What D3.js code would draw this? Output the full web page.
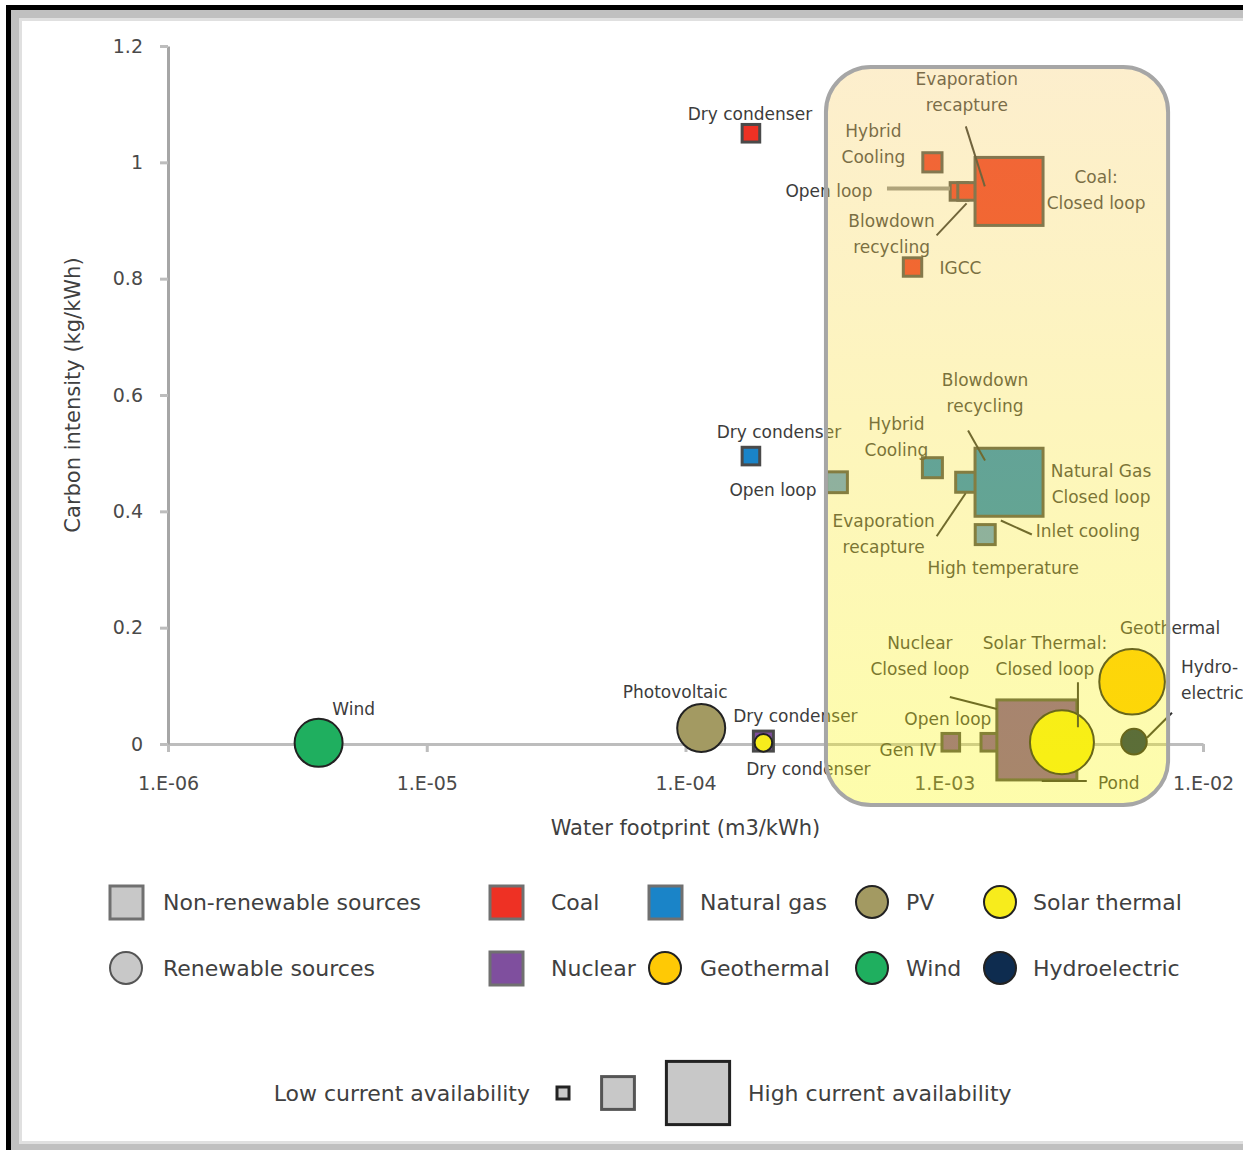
<!DOCTYPE html>
<html>
<head>
<meta charset="utf-8">
<script src="https://cdn.jsdelivr.net/npm/d3@7/dist/d3.min.js"></script>
<style>
  body { margin: 0; background: #fff; }
  text { font-family: "DejaVu Sans", sans-serif; }
</style>
</head>
<body>
<script>
var W = 1243, H = 1150;

// axis ticks
var xTicks = [1e-6, 1e-5, 1e-4, 1e-3, 1e-2],
    xTickLabels = ['1.E-06', '1.E-05', '1.E-04', '1.E-03', '1.E-02'],
    yTicks = [0, 0.2, 0.4, 0.6, 0.8, 1, 1.2],
    yTickLabels = ['0', '0.2', '0.4', '0.6', '0.8', '1', '1.2'];

// energy sources (legend order: first row, then second row)
var sources = ['Coal', 'Natural gas', 'PV', 'Solar thermal', 'Nuclear', 'Geothermal', 'Wind', 'Hydroelectric'],
    renewable = [false, false, true, true, false, true, true, true],
    sourceColors = ['#ee3124', '#1a84c8', '#a39a62', '#f7ec1c', '#7f4f9e', '#ffc905', '#1faf5f', '#0e2c4f'];

// technologies
var techSource = ['Coal', 'Coal', 'Coal', 'Coal', 'Coal', 'Coal', 'Coal',
        'Natural gas', 'Natural gas', 'Natural gas', 'Natural gas', 'Natural gas', 'Natural gas', 'Natural gas', 'Natural gas',
        'Nuclear', 'Nuclear', 'Nuclear', 'Nuclear', 'Nuclear',
        'Solar thermal', 'Solar thermal', 'Geothermal', 'Hydroelectric', 'PV', 'Wind'],
    techLabel = ['Dry condenser', 'Hybrid\nCooling', 'Open loop', 'Blowdown\nrecycling', 'Evaporation\nrecapture', 'Coal:\nClosed loop', 'IGCC',
        'Dry condenser', 'Open loop', 'Hybrid\nCooling', 'Evaporation\nrecapture', 'Blowdown\nrecycling', 'Natural Gas\nClosed loop', 'Inlet cooling', 'High temperature',
        'Dry condenser', 'Gen IV', 'Open loop', 'Nuclear\nClosed loop', 'Pond',
        'Dry condenser', 'Solar Thermal:\nClosed loop', 'Geothermal', 'Hydro-\nelectric', 'Photovoltaic', 'Wind'],
    waterFootprint = [1.79e-4, 9.0e-4, 1.14e-3, 1.22e-3, 1.50e-3, 1.78e-3, 7.54e-4,
        1.79e-4, 3.85e-4, 9.0e-4, 1.21e-3, 1.53e-3, 1.78e-3, 1.64e-3, 1.44e-3,
        2.0e-4, 1.06e-3, 1.50e-3, 2.28e-3, 2.34e-3,
        2.0e-4, 2.85e-3, 5.32e-3, 5.41e-3, 1.15e-4, 3.82e-6],
    carbonIntensity = [1.05, 1.0, 0.95, 0.95, 0.95, 0.95, 0.82,
        0.495, 0.45, 0.475, 0.45, 0.47, 0.45, 0.41, 0.36,
        0.005, 0.003, 0.003, 0.007, 0.0,
        0.002, 0.003, 0.107, 0.004, 0.0275, 0.002],
    availability = [22, 24, 22, 22, 22, 85, 23,
        22, 26, 25, 25, 22, 85, 22, 25,
        25, 22, 22, 100, 22,
        22, 80, 82, 32, 60, 60];

var sizeLegendValues = [15, 41, 79];

// pale variants drawn for two gas technologies
var paleFill = { 8: '#5b97d5', 14: '#5b97d5' };

// label placement relative to each point (pixels): [dx, dy, anchor, leader, thick]
var labelLayout = [
    [-1, -19], [-59, -31], [-130, 0, 'middle', [-72, -3, -9, -3], true], [-75, 30, 'middle', [-30, 44, 0, 12]],
    [-23, -112, 'middle', [-24, -65, -5, -5]], [87, -14], [48, 1],
    [28, -24], [-64, 8], [-36, -44], [-82, 39, 'middle', [-29, 54, 0, 11]],
    [-7, -91, 'middle', [-24, -40, -7, -10]], [92, -11], [88, 26, 'middle', [1, 15, 32, 29]], [18, 33],
    [32, -25], [-43, 8], [-42, -23], [-117, -97, 'middle', [-87, -43, -40, -31]], [79, 39, 'middle', [2, 37, 47, 37]],
    [45, 26], [-17, -99, 'middle', [16, -60, 16, -15]], [38, -54], [47, -75, 'start', [38, -29, 13, -4]],
    [-26, -36], [35, -34]
];

var svg = d3.select('body').append('svg')
        .attr('width', W)
        .attr('height', H),
    defs = svg.append('defs');

// picture frame
svg.append('rect').attr('x', 6).attr('y', 5).attr('width', W).attr('height', H).attr('fill', '#000');
svg.append('rect').attr('x', 11).attr('y', 10).attr('width', W).attr('height', H).attr('fill', '#c0c0c0');
svg.append('rect').attr('x', 19).attr('y', 18).attr('width', W).attr('height', 1126).attr('fill', '#e0e0e0');
svg.append('rect').attr('x', 22).attr('y', 21).attr('width', W).attr('height', 1120).attr('fill', '#fff');

var xScale = d3.scaleLog().domain([1e-6, 1e-2]).range([168, 1203]),
    yScale = d3.scaleLinear().domain([0, 1.2]).range([744, 46]),
    side = d3.scaleLinear().domain([0, 100]).range([0, 80]),
    color = d3.scaleOrdinal(sources, sourceColors),
    isRenewable = function(s) { return renewable[sources.indexOf(s)]; };

var chart = svg.append('g');

var xAxis = d3.axisBottom(xScale)
        .tickValues(xTicks)
        .tickFormat(function(d, i) { return xTickLabels[i]; })
        .tickSize(8)
        .tickSizeOuter(0)
        .tickPadding(25),
    yAxis = d3.axisLeft(yScale)
        .tickValues(yTicks)
        .tickFormat(function(d, i) { return yTickLabels[i]; })
        .tickSize(8)
        .tickSizeOuter(0)
        .tickPadding(17);

var xx = chart.append('g')
    .attr('transform', 'translate(0,' + yScale(0) + ')')
    .call(xAxis);
var yy = chart.append('g')
    .attr('transform', 'translate(' + xScale(1e-6) + ',0)')
    .call(yAxis);

[xx, yy].forEach(function(ax) {
    ax.select('.domain').attr('stroke', '#bdbdbd').attr('stroke-width', 3);
    ax.selectAll('.tick line').attr('stroke', '#bdbdbd').attr('stroke-width', 3);
    ax.selectAll('.tick text')
        .attr('fill', '#4a4a4a')
        .style('font-size', '19px')
        .style('font-family', '"DejaVu Sans", sans-serif');
});
yy.select('.domain').attr('stroke', '#a6a6a6');

chart.append('text')
    .attr('transform', 'translate(73,' + yScale(0.6) + ') rotate(-90)')
    .attr('text-anchor', 'middle')
    .attr('dy', '0.35em')
    .attr('fill', '#404040')
    .style('font-size', '21px')
    .text('Carbon intensity (kg/kWh)');

chart.append('text')
    .attr('x', xScale(1e-4))
    .attr('y', 828)
    .attr('text-anchor', 'middle')
    .attr('dy', '0.35em')
    .attr('fill', '#404040')
    .style('font-size', '21px')
    .text('Water footprint (m3/kWh)');

// points
var points = techSource.map(function(s, i) {
    return {
        source: s, label: techLabel[i], x: waterFootprint[i], y: carbonIntensity[i],
        size: side(availability[i]), layout: labelLayout[i],
        fill: paleFill[i] || color(s)
    };
});

var squares = points.filter(function(d) { return !isRenewable(d.source); })
        .sort(function(a, b) { return a.size - b.size; }),
    circles = points.filter(function(d) { return isRenewable(d.source); })
        .sort(function(a, b) { return a.size - b.size; });

var marks = chart.append('g');

marks.selectAll('rect')
    .data(squares)
    .enter()
    .append('rect')
    .attr('x', function(d) { return xScale(d.x) - d.size / 2; })
    .attr('y', function(d) { return yScale(d.y) - d.size / 2; })
    .attr('width', function(d) { return d.size; })
    .attr('height', function(d) { return d.size; })
    .attr('fill', function(d) { return d.fill; })
    .attr('stroke', '#4a4a4a')
    .attr('stroke-width', 3);

marks.selectAll('circle')
    .data(circles)
    .enter()
    .append('circle')
    .attr('cx', function(d) { return xScale(d.x); })
    .attr('cy', function(d) { return yScale(d.y); })
    .attr('r', function(d) { return d.size / 2; })
    .attr('fill', function(d) { return d.fill; })
    .attr('stroke', '#222')
    .attr('stroke-width', 2);

// labels and leaders
var labels = chart.append('g');

points.forEach(function(d) {
    var px = xScale(d.x), py = yScale(d.y), l = d.layout,
        lines = d.label.split('\n'),
        t = labels.append('text')
            .attr('text-anchor', l[2] || 'middle')
            .attr('fill', '#3c3c3c')
            .style('font-size', '17px');

    lines.forEach(function(line, k) {
        t.append('tspan')
            .attr('x', px + l[0])
            .attr('y', py + l[1] + k * 26)
            .attr('dy', '0.35em')
            .text(line);
    });

    if (l[3]) {
        labels.append('line')
            .attr('x1', px + l[3][0]).attr('y1', py + l[3][1])
            .attr('x2', px + l[3][2]).attr('y2', py + l[3][3])
            .attr('stroke', l[4] ? '#8c8c8c' : '#2e2e2e')
            .attr('stroke-width', l[4] ? 4 : 2);
    }
});

// highlighted region drawn over the closed-loop technologies
var grad = defs.append('linearGradient')
    .attr('id', 'boxfill')
    .attr('x1', 0).attr('y1', 0).attr('x2', 0).attr('y2', 1);
grad.append('stop').attr('offset', '0%').attr('stop-color', '#f8cc68');
grad.append('stop').attr('offset', '100%').attr('stop-color', '#faf800');

var boxX0 = xScale(3.49e-4), boxX1 = xScale(7.33e-3),
    boxY0 = yScale(1.164), boxY1 = yScale(-0.105);

chart.append('rect')
    .attr('x', boxX0)
    .attr('y', boxY0)
    .attr('width', boxX1 - boxX0)
    .attr('height', boxY1 - boxY0)
    .attr('rx', 45)
    .attr('fill', 'url(#boxfill)')
    .attr('fill-opacity', 0.33)
    .attr('stroke', '#a6a6a6')
    .attr('stroke-width', 4);

// legend of sources
var legend = svg.append('g').attr('transform', 'translate(0,902)');

var shapeKeys = [
    { label: 'Non-renewable sources', circle: false },
    { label: 'Renewable sources', circle: true }
];

var key = legend.selectAll('.key')
    .data(shapeKeys)
    .enter()
    .append('g')
    .attr('class', 'key')
    .attr('transform', function(d, i) { return 'translate(126,' + (i * 66) + ')'; });

key.each(function(d) {
    var g = d3.select(this);
    if (d.circle) {
        g.append('circle').attr('r', 16).attr('fill', '#c8c8c8').attr('stroke', '#555').attr('stroke-width', 2);
    } else {
        g.append('rect').attr('x', -16).attr('y', -16).attr('width', 33).attr('height', 33)
            .attr('fill', '#c8c8c8').attr('stroke', '#707070').attr('stroke-width', 3);
    }
});

key.append('text')
    .attr('x', 37)
    .attr('dy', '0.35em')
    .attr('fill', '#404040')
    .style('font-size', '22px')
    .text(function(d) { return d.label; });

var colX = [506, 665, 872, 1000],
    textX = [551, 700, 906, 1033];

var skey = legend.selectAll('.skey')
    .data(sources)
    .enter()
    .append('g')
    .attr('class', 'skey')
    .attr('transform', function(d, i) { return 'translate(0,' + (Math.floor(i / 4) * 66) + ')'; });

skey.each(function(d, i) {
    var g = d3.select(this), c = colX[i % 4];
    if (renewable[i]) {
        g.append('circle').attr('cx', c).attr('r', 16)
            .attr('fill', sourceColors[i]).attr('stroke', '#222').attr('stroke-width', 2);
    } else {
        g.append('rect').attr('x', c - 16).attr('y', -16).attr('width', 33).attr('height', 33)
            .attr('fill', sourceColors[i]).attr('stroke', '#707070').attr('stroke-width', 3);
    }
    g.append('text')
        .attr('x', textX[i % 4])
        .attr('dy', '0.35em')
        .attr('fill', '#404040')
        .style('font-size', '22px')
        .text(d);
});

// legend of availability
var sizeLegend = svg.append('g').attr('transform', 'translate(0,1093)');

sizeLegend.append('text')
    .attr('x', 530)
    .attr('dy', '0.35em')
    .attr('text-anchor', 'end')
    .attr('fill', '#404040')
    .style('font-size', '22px')
    .text('Low current availability');

var sx = [563, 618, 698];
sizeLegend.selectAll('rect')
    .data(sizeLegendValues)
    .enter()
    .append('rect')
    .attr('x', function(d, i) { return sx[i] - side(d) / 2; })
    .attr('y', function(d) { return -side(d) / 2; })
    .attr('width', function(d) { return side(d); })
    .attr('height', function(d) { return side(d); })
    .attr('fill', '#c8c8c8')
    .attr('stroke', function(d, i) { return i === 1 ? '#555' : '#222'; })
    .attr('stroke-width', 3);

sizeLegend.append('text')
    .attr('x', 748)
    .attr('dy', '0.35em')
    .attr('fill', '#404040')
    .style('font-size', '22px')
    .text('High current availability');
</script>
</body>
</html>
